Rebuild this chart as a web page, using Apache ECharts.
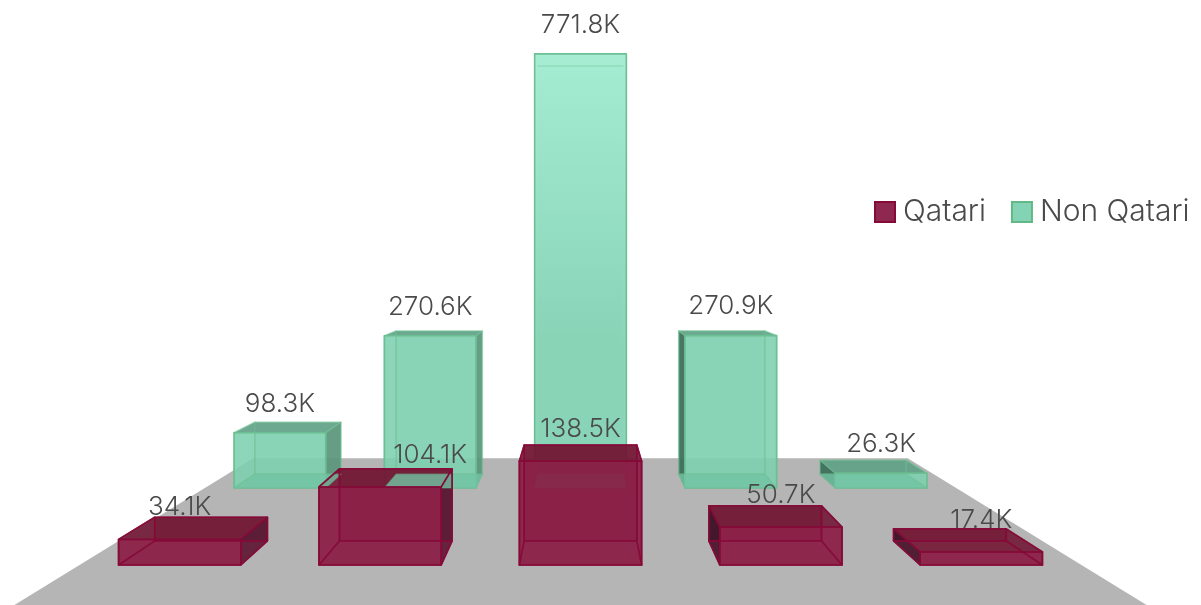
<!DOCTYPE html>
<html>
<head>
<meta charset="utf-8">
<style>html,body{margin:0;padding:0;background:#fff}#c{width:1201px;height:605px}</style>
<script src="https://cdn.jsdelivr.net/npm/echarts@6/dist/echarts.min.js"></script>
</head>
<body>
<div id="c"></div>
<script>
const categories = ['1', '2', '3', '4', '5'];
const qatari = [34100, 104100, 138500, 50700, 17400];
const nonQatari = [98300, 270600, 771800, 270900, 26300];
const qatariLabels = ['34.1K', '104.1K', '138.5K', '50.7K', '17.4K'];
const nonQatariLabels = ['98.3K', '270.6K', '771.8K', '270.9K', '26.3K'];

const FONT = '300 26px Inter, sans-serif';
const VP_Y = 257;
const DEPTH = 0.085, BACK_ROW = 1 / 0.75 - 1;
const FLOOR_NEAR = -0.115, FLOOR_FAR = 0.531;
const BAR_FRACTION = 0.61;
const TEXT = '#4a4a4a';

const grad = (a, b) => new echarts.graphic.LinearGradient(0, 54, 0, 340,
  [{offset: 0, color: a}, {offset: 1, color: b}], true);

const styles = {
  q: {
    front: 'rgba(138,26,65,0.9)', back: 'rgba(141,27,61,0.5)', bottom: 'rgba(141,27,61,0.15)',
    top: 'rgba(112,20,50,0.88)', left: 'rgba(58,16,36,0.9)', right: 'rgba(84,21,48,0.9)',
    edge: '#850a38', backEdge: 'rgba(133,10,56,0.85)'
  },
  g: {
    front: grad('rgba(155,234,206,0.88)', 'rgba(125,208,176,0.88)'),
    back: grad('rgba(155,234,206,0.25)', 'rgba(125,208,176,0.25)'),
    bottom: 'rgba(114,196,164,0.8)',
    top: 'rgba(96,160,134,0.9)', left: 'rgba(60,108,88,0.92)', right: 'rgba(90,150,124,0.92)',
    edge: '#6cbf92', backEdge: 'rgba(108,191,146,0.35)'
  }
};

function project(vx, x, y, z) {
  const s = 1 / (1 + z);
  return [vx + (x - vx) * s, VP_Y + (y - VP_Y) * s];
}

function boxItem(kind, labels) {
  const isBackRow = kind === 'g';
  const z0 = isBackRow ? BACK_ROW : 0, z1 = z0 + DEPTH;
  const st = styles[kind];
  return function (params, api) {
    const i = api.value(0);
    const base = api.coord([i, 0]);
    const top = api.coord([i, api.value(1)]);
    const vx = api.coord([(categories.length - 1) / 2, 0])[0];
    const hw = api.size([1, 0])[0] * BAR_FRACTION / 2;
    const xl = base[0] - hw, xr = base[0] + hw;
    const P = (x, y, z) => project(vx, x, y, z);
    const f = {
      front: [P(xl, top[1], z0), P(xr, top[1], z0), P(xr, base[1], z0), P(xl, base[1], z0)],
      back: [P(xl, top[1], z1), P(xr, top[1], z1), P(xr, base[1], z1), P(xl, base[1], z1)],
      top: [P(xl, top[1], z0), P(xr, top[1], z0), P(xr, top[1], z1), P(xl, top[1], z1)],
      bottom: [P(xl, base[1], z0), P(xr, base[1], z0), P(xr, base[1], z1), P(xl, base[1], z1)],
      left: [P(xl, top[1], z0), P(xl, top[1], z1), P(xl, base[1], z1), P(xl, base[1], z0)],
      right: [P(xr, top[1], z0), P(xr, top[1], z1), P(xr, base[1], z1), P(xr, base[1], z0)]
    };
    const seesTop = top[1] > VP_Y;
    const seesLeft = xl > vx;
    const seesRight = xr < vx;
    const zMain = isBackRow ? 10 : 20;
    const zFront = isBackRow ? 11 : 30;
    const zEdge = isBackRow ? 12 : 31;
    const zBottom = isBackRow ? 25 : 21;
    const face = (name, z2) => ({type: 'polygon', z2, shape: {points: f[name]}, style: {fill: st[name], stroke: null}});
    const edge = (name, z2, colour) => ({type: 'polygon', z2, shape: {points: f[name]},
      style: {fill: null, stroke: colour, lineWidth: 1.6, lineJoin: 'round'}});
    const children = [];
    children.push(face('back', zMain));
    children.push(face('bottom', zBottom));
    if (seesLeft) children.push(face('left', zMain));
    if (seesRight) children.push(face('right', zMain));
    if (seesTop) children.push(face('top', zMain));
    children.push(face('front', zFront));
    if (seesTop) {
      ['back', 'left', 'right', 'top'].forEach(n => children.push(edge(n, zEdge, st.backEdge)));
    } else {
      children.push({type: 'polyline', z2: zEdge, shape: {points: [f.back[0], f.back[1]]},
        style: {fill: null, stroke: st.backEdge, lineWidth: 1.6}});
    }
    children.push(edge('bottom', zBottom, st.backEdge));
    children.push(edge('front', zEdge, st.edge));
    let lx, ly;
    if (isBackRow) {
      const p = P(base[0], top[1], z0);
      lx = p[0]; ly = p[1] - 29;
    } else {
      lx = i === 1 ? P(base[0], 0, BACK_ROW)[0] : base[0];
      ly = top[1] - 32;
    }
    children.push({type: 'text', z2: 50, style: {text: labels[i], x: lx, y: ly, fill: TEXT,
      font: FONT, align: 'center', verticalAlign: 'middle'}});
    return {type: 'group', children};
  };
}

const chart = echarts.init(document.getElementById('c'), null, {renderer: 'canvas'});
chart.setOption({
  animation: false,
  backgroundColor: '#fff',
  tooltip: {show: false},
  legend: {
    left: 869, top: 192, itemWidth: 20, itemHeight: 20, itemGap: 25,
    icon: 'rect', selectedMode: false,
    textStyle: {fontFamily: 'Inter, sans-serif', fontWeight: 300, fontSize: 30, color: TEXT, padding: [0, 0, 0, 3]},
    data: [
      {name: 'Qatari', itemStyle: {color: '#8f2850', borderColor: '#850a38', borderWidth: 2}},
      {name: 'Non Qatari', itemStyle: {color: '#85d3b5', borderColor: '#63b985', borderWidth: 2}}
    ]
  },
  grid: {left: 79.5, right: 119.5, top: -35, bottom: 40, containLabel: false, outerBoundsMode: 'none'},
  xAxis: {type: 'category', data: categories, show: false},
  yAxis: {type: 'value', min: 0, max: 800000, show: false},
  series: [
    {
      name: 'Floor', type: 'custom', silent: true, z: 2, data: [[0, 0]],
      encode: {x: 0, y: 1},
      renderItem(params, api) {
        const a = api.coord([0, 0]);
        const w = api.size([1, 0])[0];
        const n = categories.length;
        const l = a[0] - w / 2, r = l + w * n, vx = (l + r) / 2;
        const pts = [
          project(vx, l, a[1], FLOOR_NEAR), project(vx, r, a[1], FLOOR_NEAR),
          project(vx, r, a[1], FLOOR_FAR), project(vx, l, a[1], FLOOR_FAR)
        ];
        return {type: 'polygon', z2: 1, shape: {points: pts}, style: {fill: '#b5b5b5'}};
      }
    },
    {
      name: 'Non Qatari', type: 'custom', silent: true, z: 2,
      color: '#85d3b5', encode: {x: 0, y: 1},
      data: nonQatari.map((v, i) => [i, v]),
      renderItem: boxItem('g', nonQatariLabels)
    },
    {
      name: 'Qatari', type: 'custom', silent: true, z: 2,
      color: '#8f2850', encode: {x: 0, y: 1},
      data: qatari.map((v, i) => [i, v]),
      renderItem: boxItem('q', qatariLabels)
    }
  ]
});
</script>
</body>
</html>
